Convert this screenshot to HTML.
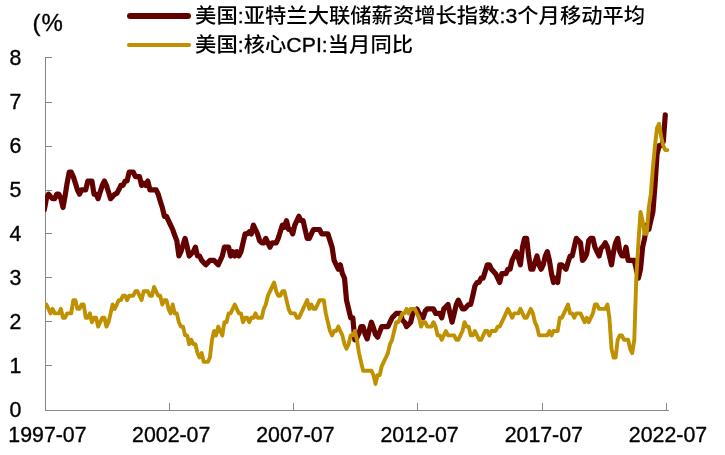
<!DOCTYPE html>
<html lang="zh"><head><meta charset="utf-8"><title>美国薪资增长与核心CPI</title>
<style>
html,body{margin:0;padding:0;background:#fff;}
body{width:725px;height:455px;overflow:hidden;}
svg{display:block;}
text{font-family:"Liberation Sans","Noto Sans CJK SC",sans-serif;font-size:21.33px;fill:#000;font-weight:500;}
.n{stroke:#000;stroke-width:0.35px;stroke-linejoin:round;}
</style></head><body>
<svg width="725" height="455" viewBox="0 0 725 455">
<rect width="725" height="455" fill="#fff"/>
<defs><clipPath id="plot"><rect x="45" y="40" width="640" height="372"/></clipPath></defs>
<g stroke="#868686" stroke-width="1" fill="none">
<path d="M45.5 57 V411 M45 410.5 H669"/>
<path d="M45 365.5 H52"/>
<path d="M45 321.5 H52"/>
<path d="M45 277.5 H52"/>
<path d="M45 233.5 H52"/>
<path d="M45 190.5 H52"/>
<path d="M45 146.5 H52"/>
<path d="M45 102.5 H52"/>
<path d="M45 57.5 H52"/>
<path d="M169.5 403 V411"/>
<path d="M293.5 403 V411"/>
<path d="M417.5 403 V411"/>
<path d="M542.5 403 V411"/>
<path d="M666.5 403 V411"/>
</g>
<text class="n" x="9.6" y="416.7">0</text>
<text class="n" x="9.6" y="372.7">1</text>
<text class="n" x="9.6" y="328.7">2</text>
<text class="n" x="9.6" y="284.7">3</text>
<text class="n" x="9.6" y="240.7">4</text>
<text class="n" x="9.6" y="196.7">5</text>
<text class="n" x="9.6" y="152.7">6</text>
<text class="n" x="9.6" y="108.7">7</text>
<text class="n" x="9.6" y="64.7">8</text>
<text class="n" x="8.3" y="442.4">1997-07</text>
<text class="n" x="171.2" y="442.4" text-anchor="middle">2002-07</text>
<text class="n" x="295.4" y="442.4" text-anchor="middle">2007-07</text>
<text class="n" x="419.6" y="442.4" text-anchor="middle">2012-07</text>
<text class="n" x="543.8" y="442.4" text-anchor="middle">2017-07</text>
<text class="n" x="668.0" y="442.4" text-anchor="middle">2022-07</text>
<text class="n" x="32.6" y="30.9" style="font-size:24px;letter-spacing:0.8px">(%</text>
<text transform="translate(195.1 23.0) scale(1 0.94)">美国<tspan class="n">:</tspan>亚特兰大联储薪资增长指数<tspan class="n">:3</tspan>个月移动平均</text>
<text transform="translate(195.1 52.0) scale(1 0.94)">美国<tspan class="n">:</tspan>核心<tspan class="n">CPI:</tspan>当月同比</text>
<path d="M130 15.9 H188" stroke="#630000" stroke-width="6" stroke-linecap="round" fill="none"/>
<path d="M129 45.0 H189" stroke="#BF9000" stroke-width="4.1" stroke-linecap="round" fill="none"/>
<g clip-path="url(#plot)" fill="none" stroke-linejoin="round" stroke-linecap="round">
<polyline points="44.3,209.7 46.4,198.7 48.5,194.2 50.5,196.5 52.6,198.7 54.7,198.7 56.8,194.2 58.8,194.2 60.9,198.7 63.0,207.5 65.0,196.5 67.1,183.2 69.2,172.2 71.2,172.2 73.3,176.6 75.4,183.2 77.4,189.8 79.5,194.2 81.6,189.8 83.7,189.8 85.7,189.8 87.8,181.0 89.9,181.0 91.9,181.0 94.0,194.2 96.1,194.2 98.1,198.7 100.2,192.0 102.3,185.4 104.4,181.0 106.4,185.4 108.5,192.0 110.6,198.7 112.6,196.5 114.7,194.2 116.8,193.4 118.8,189.8 120.9,185.4 123.0,185.4 125.1,181.0 127.1,181.0 129.2,172.2 131.3,172.2 133.3,172.2 135.4,176.6 137.5,176.6 139.5,176.6 141.6,185.4 143.7,183.2 145.8,185.4 147.8,181.0 149.9,189.8 152.0,189.8 154.0,189.8 156.1,189.8 158.2,194.2 160.2,200.9 162.3,207.5 164.4,216.3 166.5,216.3 168.5,220.7 170.6,225.1 172.7,229.5 174.7,235.3 176.8,240.6 178.9,256.0 180.9,251.6 183.0,245.0 185.1,238.4 187.2,247.2 189.2,256.0 191.3,253.8 193.4,251.6 195.4,247.2 197.5,256.0 199.6,256.0 201.7,260.4 203.7,262.6 205.8,264.8 207.9,262.6 209.9,260.4 212.0,260.4 214.1,260.4 216.1,262.6 218.2,264.8 220.3,260.4 222.3,256.0 224.4,247.2 226.5,247.2 228.6,247.2 230.6,256.0 232.7,251.6 234.8,256.0 236.8,251.6 238.9,256.0 241.0,251.6 243.0,242.8 245.1,233.9 247.2,233.9 249.3,231.7 251.3,233.9 253.4,225.1 255.5,229.5 257.5,233.9 259.6,240.6 261.7,242.8 263.8,242.8 265.8,238.4 267.9,242.8 270.0,247.2 272.0,242.8 274.1,242.8 276.2,242.8 278.2,238.4 280.3,231.7 282.4,225.1 284.4,227.3 286.5,220.7 288.6,229.5 290.7,229.5 292.7,233.9 294.8,225.1 296.9,220.7 298.9,216.3 301.0,220.7 303.1,220.7 305.1,229.5 307.2,238.4 309.3,238.4 311.4,233.9 313.4,229.5 315.5,229.5 317.6,229.5 319.6,229.5 321.7,233.9 323.8,233.9 325.8,233.9 327.9,233.9 330.0,240.6 332.1,247.2 334.1,260.4 336.2,264.8 338.3,269.2 340.3,264.8 342.4,273.7 344.5,278.1 346.5,300.1 348.6,308.9 350.7,317.8 352.8,317.8 354.8,339.8 356.9,337.6 359.0,333.2 361.0,326.6 363.1,326.6 365.2,334.5 367.2,338.9 369.3,330.1 371.4,322.2 373.5,327.9 375.5,334.5 377.6,337.2 379.7,331.9 381.7,326.6 383.8,326.6 385.9,326.6 387.9,326.6 390.0,322.2 392.1,317.8 394.2,315.6 396.2,313.4 398.3,313.4 400.4,313.4 402.4,320.0 404.5,322.2 406.6,326.6 408.6,324.4 410.7,322.2 412.8,313.4 414.9,311.1 416.9,308.9 419.0,313.4 421.1,315.6 423.1,317.8 425.2,311.1 427.3,308.9 429.3,308.9 431.4,308.9 433.5,308.9 435.6,313.4 437.6,313.4 439.7,313.4 441.8,317.8 443.8,308.9 445.9,306.7 448.0,304.5 450.0,313.4 452.1,322.2 454.2,313.4 456.3,304.5 458.3,300.1 460.4,304.5 462.5,308.9 464.5,308.9 466.6,306.7 468.7,304.5 470.7,304.5 472.8,295.7 474.9,286.0 477.0,282.5 479.0,282.5 481.1,278.1 483.2,278.1 485.2,271.4 487.3,264.8 489.4,264.8 491.4,269.2 493.5,271.4 495.6,273.7 497.7,278.1 499.7,282.5 501.8,273.7 503.9,273.7 505.9,273.7 508.0,269.2 510.1,269.2 512.1,260.4 514.2,256.0 516.3,251.6 518.4,258.2 520.4,264.8 522.5,247.2 524.6,238.4 526.6,238.4 528.7,256.0 530.8,269.2 532.9,269.2 534.9,262.6 537.0,256.0 539.1,264.8 541.1,269.2 543.2,264.8 545.3,256.0 547.3,251.6 549.4,260.4 551.5,273.7 553.5,282.5 555.6,278.1 557.7,282.5 559.8,264.8 561.8,264.8 563.9,267.0 566.0,269.2 568.0,262.6 570.1,256.0 572.2,256.0 574.2,247.2 576.3,238.4 578.4,240.6 580.5,242.8 582.5,260.4 584.6,258.2 586.7,253.8 588.7,240.6 590.8,238.4 592.9,238.4 594.9,247.2 597.0,251.6 599.1,256.0 601.2,248.1 603.2,246.3 605.3,242.8 607.4,247.2 609.4,256.0 611.5,264.8 613.6,251.6 615.6,242.8 617.7,238.4 619.8,251.6 621.9,256.0 623.9,256.0 626.0,247.2 628.1,260.4 630.1,260.4 632.2,260.4 634.3,260.4 636.3,269.2 638.4,278.1 640.5,269.2 642.6,247.2 644.6,238.4 646.7,225.1 648.8,229.5 650.8,220.7 652.9,211.9 655.0,185.4 657.0,154.5 659.1,145.7 661.2,145.7 663.3,141.3 665.3,114.8" stroke="#630000" stroke-width="5.2"/>
<polyline points="44.3,304.5 46.4,304.5 48.5,308.9 50.5,313.4 52.6,308.9 54.7,313.4 56.8,313.4 58.8,313.4 60.9,308.9 63.0,317.8 65.0,317.8 67.1,313.4 69.2,313.4 71.2,313.4 73.3,300.1 75.4,300.1 77.4,308.9 79.5,308.9 81.6,304.5 83.7,304.5 85.7,317.8 87.8,317.8 89.9,313.4 91.9,322.2 94.0,317.8 96.1,317.8 98.1,326.6 100.2,322.2 102.3,317.8 104.4,317.8 106.4,326.6 108.5,322.2 110.6,313.4 112.6,304.5 114.7,308.9 116.8,304.5 118.8,300.1 120.9,300.1 123.0,295.7 125.1,295.7 127.1,300.1 129.2,295.7 131.3,295.7 133.3,295.7 135.4,291.3 137.5,291.3 139.5,295.7 141.6,300.1 143.7,291.3 145.8,291.3 147.8,291.3 149.9,295.7 152.0,295.7 154.0,286.9 156.1,291.3 158.2,295.7 160.2,295.7 162.3,304.5 164.4,300.1 166.5,300.1 168.5,308.9 170.6,313.4 172.7,304.5 174.7,313.4 176.8,313.4 178.9,322.2 180.9,326.6 183.0,326.6 185.1,335.4 187.2,335.4 189.2,344.2 191.3,339.8 193.4,344.2 195.4,344.2 197.5,353.1 199.6,357.5 201.7,353.1 203.7,361.9 205.8,361.9 207.9,361.9 209.9,357.5 212.0,339.8 214.1,331.0 216.1,335.4 218.2,326.6 220.3,331.0 222.3,335.4 224.4,322.2 226.5,322.2 228.6,313.4 230.6,313.4 232.7,308.9 234.8,304.5 236.8,308.9 238.9,313.4 241.0,313.4 243.0,322.2 245.1,317.8 247.2,317.8 249.3,322.2 251.3,317.8 253.4,317.8 255.5,313.4 257.5,317.8 259.6,317.8 261.7,317.8 263.8,308.9 265.8,304.5 267.9,295.7 270.0,291.3 272.0,286.9 274.1,282.5 276.2,291.3 278.2,295.7 280.3,295.7 282.4,291.3 284.4,291.3 286.5,300.1 288.6,308.9 290.7,313.4 292.7,313.4 294.8,313.4 296.9,317.8 298.9,317.8 301.0,313.4 303.1,308.9 305.1,304.5 307.2,300.1 309.3,308.9 311.4,304.5 313.4,308.9 315.5,308.9 317.6,304.5 319.6,300.1 321.7,300.1 323.8,300.1 325.8,313.4 327.9,322.2 330.0,331.0 332.1,335.4 334.1,331.0 336.2,331.0 338.3,326.6 340.3,331.0 342.4,335.4 344.5,344.2 346.5,348.6 348.6,344.2 350.7,335.4 352.8,335.4 354.8,331.0 356.9,339.8 359.0,353.1 361.0,361.9 363.1,370.7 365.2,370.7 367.2,370.7 369.3,370.7 371.4,370.7 373.5,375.1 375.5,383.9 377.6,375.1 379.7,375.1 381.7,366.3 383.8,361.9 385.9,357.5 387.9,353.1 390.0,344.2 392.1,339.8 394.2,331.0 396.2,322.2 398.3,322.2 400.4,317.8 402.4,313.4 404.5,313.4 406.6,308.9 408.6,313.4 410.7,308.9 412.8,308.9 414.9,308.9 416.9,313.4 419.0,317.8 421.1,326.6 423.1,322.2 425.2,322.2 427.3,326.6 429.3,326.6 431.4,326.6 433.5,322.2 435.6,326.6 437.6,335.4 439.7,335.4 441.8,339.8 443.8,335.4 445.9,331.0 448.0,335.4 450.0,335.4 452.1,335.4 454.2,335.4 456.3,339.8 458.3,339.8 460.4,335.4 462.5,331.0 464.5,322.2 466.6,326.6 468.7,326.6 470.7,335.4 472.8,335.4 474.9,331.0 477.0,335.4 479.0,339.8 481.1,339.8 483.2,335.4 485.2,331.0 487.3,331.0 489.4,335.4 491.4,331.0 493.5,331.0 495.6,331.0 497.7,326.6 499.7,326.6 501.8,322.2 503.9,317.8 505.9,313.4 508.0,308.9 510.1,313.4 512.1,317.8 514.2,313.4 516.3,313.4 518.4,313.4 520.4,308.9 522.5,313.4 524.6,317.8 526.6,317.8 528.7,313.4 530.8,308.9 532.9,313.4 534.9,322.2 537.0,326.6 539.1,335.4 541.1,335.4 543.2,335.4 545.3,335.4 547.3,335.4 549.4,331.0 551.5,335.4 553.5,331.0 555.6,331.0 557.7,331.0 559.8,317.8 561.8,317.8 563.9,313.4 566.0,308.9 568.0,304.5 570.1,313.4 572.2,313.4 574.2,317.8 576.3,313.4 578.4,313.4 580.5,313.4 582.5,317.8 584.6,322.2 586.7,317.8 588.7,322.2 590.8,317.8 592.9,313.4 594.9,304.5 597.0,304.5 599.1,308.9 601.2,308.9 603.2,308.9 605.3,308.9 607.4,304.5 609.4,317.8 611.5,348.6 613.6,357.5 615.6,357.5 617.7,339.8 619.8,335.4 621.9,335.4 623.9,339.8 626.0,339.8 628.1,339.8 630.1,348.6 632.2,353.1 634.3,339.8 636.3,278.1 638.4,242.8 640.5,211.9 642.6,220.7 644.6,233.9 646.7,233.9 648.8,207.5 650.8,194.2 652.9,167.8 655.0,145.7 657.0,128.1 659.1,123.7 661.2,136.9 663.3,145.7 665.3,150.1 667.4,150.1" stroke="#BF9000" stroke-width="3.9"/>
</g>
</svg>
</body></html>
